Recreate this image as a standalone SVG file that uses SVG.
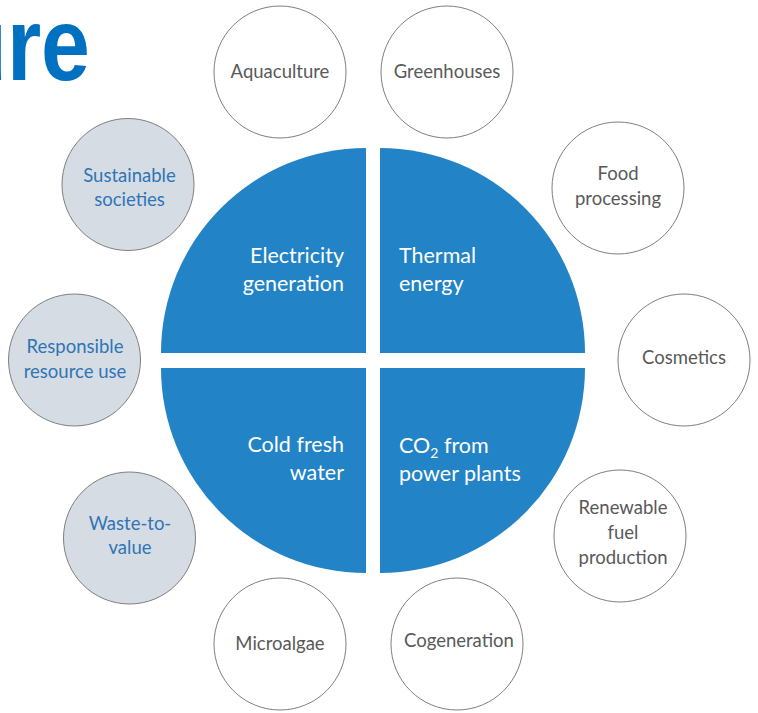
<svg xmlns="http://www.w3.org/2000/svg" width="758" height="713" viewBox="0 0 758 713">
<style>
.q{fill:#2283C6}
.qt{fill:#FFFFFF;font-family:Lato,"Open Sans",sans-serif;font-size:21.5px}
.c{fill:#FFFFFF;stroke:#7F7F7F;stroke-width:1}
.g{fill:#D6DCE4;stroke:#7F7F7F;stroke-width:1}
.ct{fill:#595959;font-family:Lato,"Open Sans",sans-serif;font-size:18.5px;text-anchor:middle}
.gt{fill:#2E75B6;font-family:Lato,"Open Sans",sans-serif;font-size:18.5px;text-anchor:middle}
.title{fill:#0070C0;font-family:"Liberation Sans",Arial,sans-serif;font-weight:bold;font-size:104px;text-anchor:end}
</style>
<rect width="758" height="713" fill="#FFFFFF"/>
<text class="title" transform="translate(90,80) scale(0.845,1)" x="0" y="0">ure</text>
<g id="connectors"/>
<g id="electricity">
<path class="q" d="M366,353 L161,353 A205,205 0 0 1 366,148 Z"/>
<text class="qt" text-anchor="end"><tspan x="344" y="263">Electricity</tspan><tspan x="344" y="291">generation</tspan></text>
</g>
<g id="thermal">
<path class="q" d="M380,353 L380,148 A205,205 0 0 1 585,353 Z"/>
<text class="qt"><tspan x="399" y="263">Thermal</tspan><tspan x="399" y="291">energy</tspan></text>
</g>
<g id="coldwater">
<path class="q" d="M366,368 L366,573 A205,205 0 0 1 161,368 Z"/>
<text class="qt" text-anchor="end"><tspan x="344" y="452">Cold fresh</tspan><tspan x="344" y="480">water</tspan></text>
</g>
<g id="co2">
<path class="q" d="M380,368 L585,368 A205,205 0 0 1 380,573 Z"/>
<text class="qt"><tspan x="399" y="453">CO</tspan><tspan font-size="14" dy="5">2</tspan><tspan dy="-5"> from</tspan><tspan x="399" y="481">power plants</tspan></text>
</g>
<g id="aquaculture">
<circle class="c" cx="280" cy="72" r="66"/>
<text class="ct" x="280" y="78">Aquaculture</text>
</g>
<g id="greenhouses">
<circle class="c" cx="447" cy="72" r="66"/>
<text class="ct" x="447" y="78">Greenhouses</text>
</g>
<g id="food">
<circle class="c" cx="618" cy="188" r="66"/>
<text class="ct"><tspan x="618" y="180">Food</tspan><tspan x="618" y="205">processing</tspan></text>
</g>
<g id="cosmetics">
<circle class="c" cx="684" cy="360" r="66"/>
<text class="ct" x="684" y="364">Cosmetics</text>
</g>
<g id="renewable">
<circle class="c" cx="620" cy="536" r="66"/>
<text class="ct"><tspan x="623" y="514">Renewable</tspan><tspan x="623" y="539">fuel</tspan><tspan x="623" y="564">production</tspan></text>
</g>
<g id="cogeneration">
<circle class="c" cx="457" cy="644" r="66"/>
<text class="ct" x="459" y="647">Cogeneration</text>
</g>
<g id="microalgae">
<circle class="c" cx="280" cy="644" r="66"/>
<text class="ct" x="280" y="650">Microalgae</text>
</g>
<g id="waste">
<circle class="g" cx="129.5" cy="538" r="66"/>
<text class="gt"><tspan x="130" y="530">Waste-to-</tspan><tspan x="130" y="554">value</tspan></text>
</g>
<g id="responsible">
<circle class="g" cx="74.5" cy="360" r="66"/>
<text class="gt"><tspan x="75" y="353">Responsible</tspan><tspan x="75" y="378">resource use</tspan></text>
</g>
<g id="sustainable">
<circle class="g" cx="128" cy="184.5" r="66"/>
<text class="gt"><tspan x="129.5" y="181.5">Sustainable</tspan><tspan x="129.5" y="205.5">societies</tspan></text>
</g>
</svg>
